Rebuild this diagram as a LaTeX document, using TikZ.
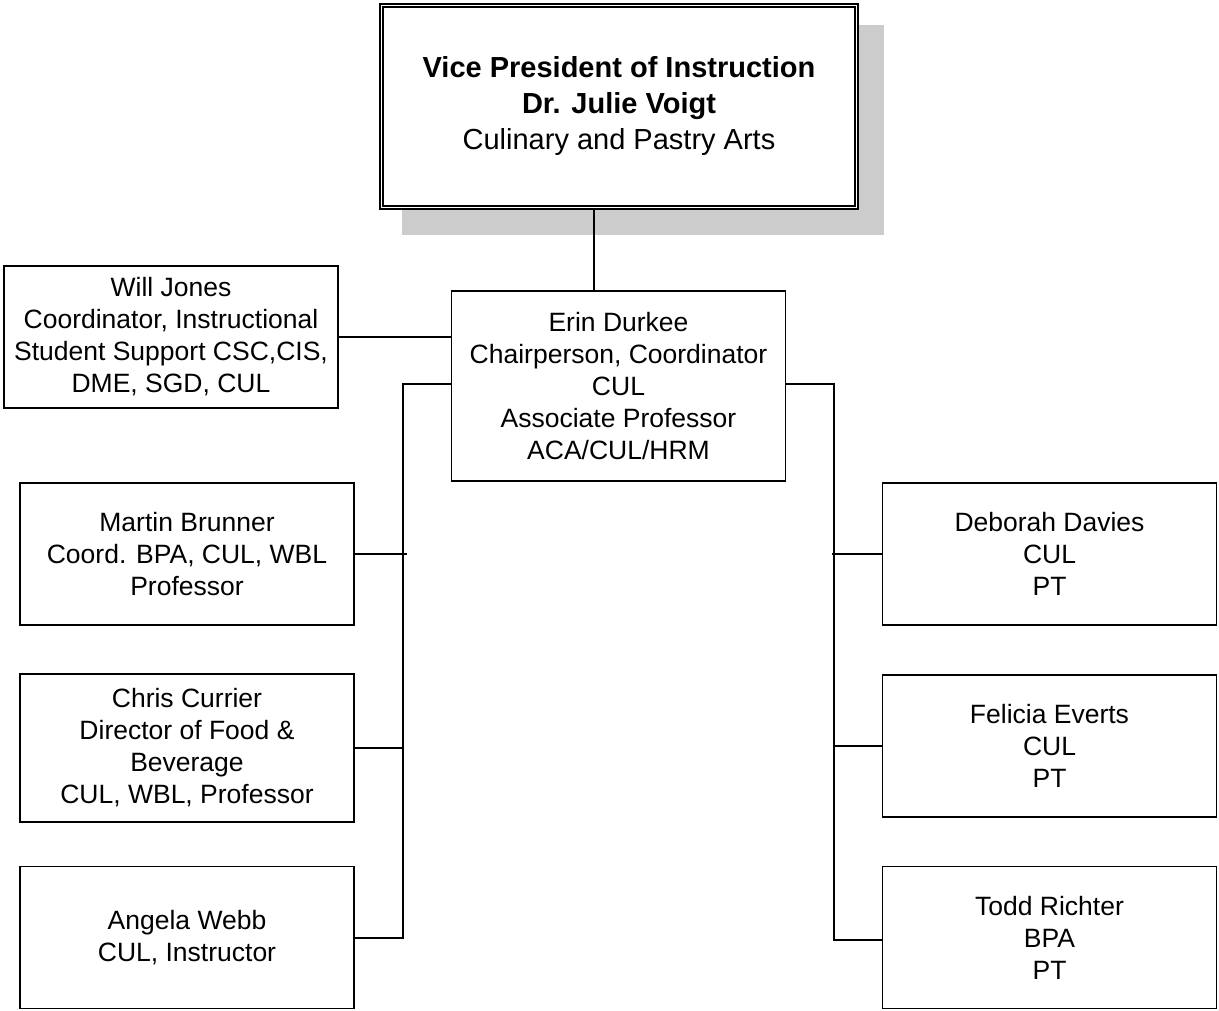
\documentclass[tikz,border=0pt]{standalone}
\usepackage{fontspec}
\setmainfont{Liberation Sans}
\begin{document}
\begin{tikzpicture}[x=1pt,y=-1pt]
\useasboundingbox (0,0) rectangle (1219,1011);

% shadow of the top box
\fill[black!20] (402,25) rectangle (884,235);

\node (vp) at (619,106.5) [draw,double,line width=1.3pt,double distance=1.8pt,fill=white,
    minimum width=475pt,minimum height=202pt,align=center,
    font=\fontsize{29}{36}\selectfont] {\textbf{Vice President of Instruction}\\\textbf{Dr. Julie Voigt}\\Culinary and Pastry Arts};

\begin{scope}[every node/.style={draw,line width=1.6pt,align=center,inner sep=0pt,
    minimum width=334pt,minimum height=142pt,font=\fontsize{26.5}{32}\selectfont}]
    \node (will) at (171,337) {Will Jones\\Coordinator, Instructional\\Student Support CSC,CIS,\\DME, SGD, CUL};
    \node (erin) at (618.5,386) [minimum height=190pt] {Erin Durkee\\Chairperson, Coordinator\\CUL\\Associate Professor\\ACA/CUL/HRM};

    \node (martin) at (187,554) {Martin Brunner\\Coord. BPA, CUL, WBL\\Professor};
    \node (chris) at (187,748) [minimum height=148pt] {Chris Currier\\Director of Food \&\\Beverage\\CUL, WBL, Professor};
    \node (angela) at (187,937.5) {Angela Webb\\CUL, Instructor};

    \node (deborah) at (1049.5,554) {Deborah Davies\\CUL\\PT};
    \node (felicia) at (1049.5,746) {Felicia Everts\\CUL\\PT};
    \node (todd) at (1049.5,937.5) {Todd Richter\\BPA\\PT};
\end{scope}

\coordinate (lbus) at (403,938);
\coordinate (rbus) at (834,940);

\begin{scope}[style={line width=1.3pt}]
    \draw ([xshift=-25pt]vp.south) -- ([xshift=-25pt]vp.south |- erin.north);
    \draw (will.east) -- (will.east -| erin.west);

    \draw ([yshift=2pt]erin.west) -| (lbus) -- (lbus -| angela.east);
    \draw (martin.east) -- ([xshift=4pt]martin.east -| lbus);
    \draw (chris.east) -- (chris.east -| lbus);

    \draw ([yshift=2pt]erin.east) -| (rbus) -- (rbus -| todd.west);
    \draw (deborah.west) -- ([xshift=-2pt]deborah.west -| rbus);
    \draw (felicia.west) -- (felicia.west -| rbus);
\end{scope}

\end{tikzpicture}
\end{document}
